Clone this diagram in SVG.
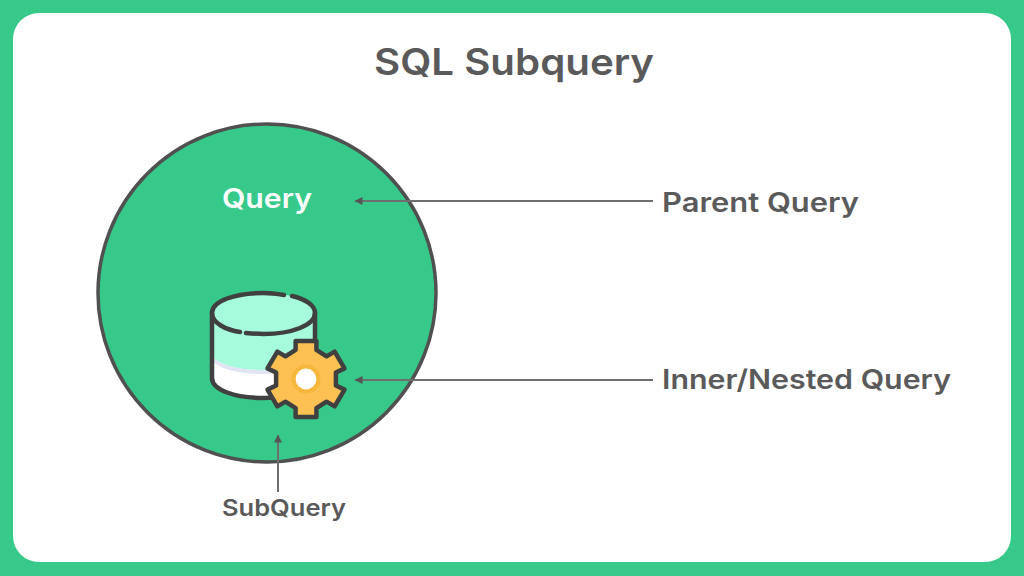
<svg xmlns="http://www.w3.org/2000/svg" width="1024" height="576" viewBox="0 0 1024 576">
<style>
text{font-family:"Inter","Noto Sans","Liberation Sans",sans-serif;font-weight:600;fill:#5a5a5a}
.ink{stroke:#404040;stroke-width:4.5;fill:none;stroke-linecap:round;stroke-linejoin:round}
.conn{stroke:#6e6e6e;stroke-width:2;fill:none;marker-end:url(#arrow)}
</style>
<defs>
<marker id="arrow" viewBox="0 0 8 8" refX="7.5" refY="4" markerWidth="8" markerHeight="8" markerUnits="userSpaceOnUse" orient="auto"><path d="M0 0L8 4L0 8Z" fill="#555"/></marker>
</defs>
<rect width="1024" height="576" fill="#36c98a"/>
<rect x="13" y="13" width="998" height="549" rx="26" fill="#fff"/>
<text id="title" x="514" y="75" text-anchor="middle" font-size="37" textLength="280" lengthAdjust="spacingAndGlyphs">SQL Subquery</text>
<g id="query">
<circle cx="267" cy="293" r="169" fill="#36c98a" stroke="#505050" stroke-width="3.500"/>
<text x="267" y="208" text-anchor="middle" font-size="27" textLength="90" lengthAdjust="spacingAndGlyphs" style="fill:#fff">Query</text>
</g>
<g id="database">
<path d="M212 313V378C212 390 235 398 263.5 398S315 390 315 378V313C315 301 292 293 263.5 293S212 301 212 313Z" fill="#a6fbdc"/>
<path d="M212 357C222 366 240 370 263 370S305 366 315 357V378C315 390 292 398 263.5 398S212 390 212 378Z" fill="#fff"/>
<path d="M212 357C222 366 240 370 263 370S305 366 315 357V361C305 370 285 374 263 374S222 370 212 361Z" fill="#e1e4f2"/>
<path class="ink" d="M212 313V378C212 390 235 398 263.5 398S315 390 315 378V313"/>
<path class="ink" d="M284 295C278 294 271 293 263.5 293C235 293 212 301 212 313C212 323 226 330 240 332"/>
<path class="ink" d="M246 333C252 333.500 258 334 263.500 334C292 334 315 325 315 313C315 305 305 299 292 296"/>
</g>
<g id="gear" transform="translate(306 379) scale(1.040)">
<path d="M-10-28V-36.500H10V-28L19.750-21.790L27.540-26.290L37.040-10.210L28.750-6.210V6.210L37.040 10.210L27.540 26.290L19.750 21.790L10 28V36.500H-10V28L-19.750 21.790L-27.540 26.290L-37.040 10.210L-28.750 6.210V-6.210L-37.040-10.210L-27.540-26.290L-19.750-21.790Z" fill="#fcc152" stroke="#404040" stroke-width="4.300" stroke-linejoin="round"/>
<circle r="14" fill="#f6b73c"/>
<circle r="10" fill="#fff"/>
</g>
<g id="connectors">
<path class="conn" d="M653 201H355"/>
<path class="conn" d="M653 380H355"/>
<path class="conn" d="M278 492V435"/>
</g>
<text id="parent-label" x="662" y="212" font-size="27" textLength="197" lengthAdjust="spacingAndGlyphs">Parent Query</text>
<text id="inner-label" x="662" y="389" font-size="27" textLength="289" lengthAdjust="spacingAndGlyphs">Inner/Nested Query</text>
<text id="subquery-label" x="222" y="516" font-size="23" textLength="124" lengthAdjust="spacingAndGlyphs">SubQuery</text>
</svg>
